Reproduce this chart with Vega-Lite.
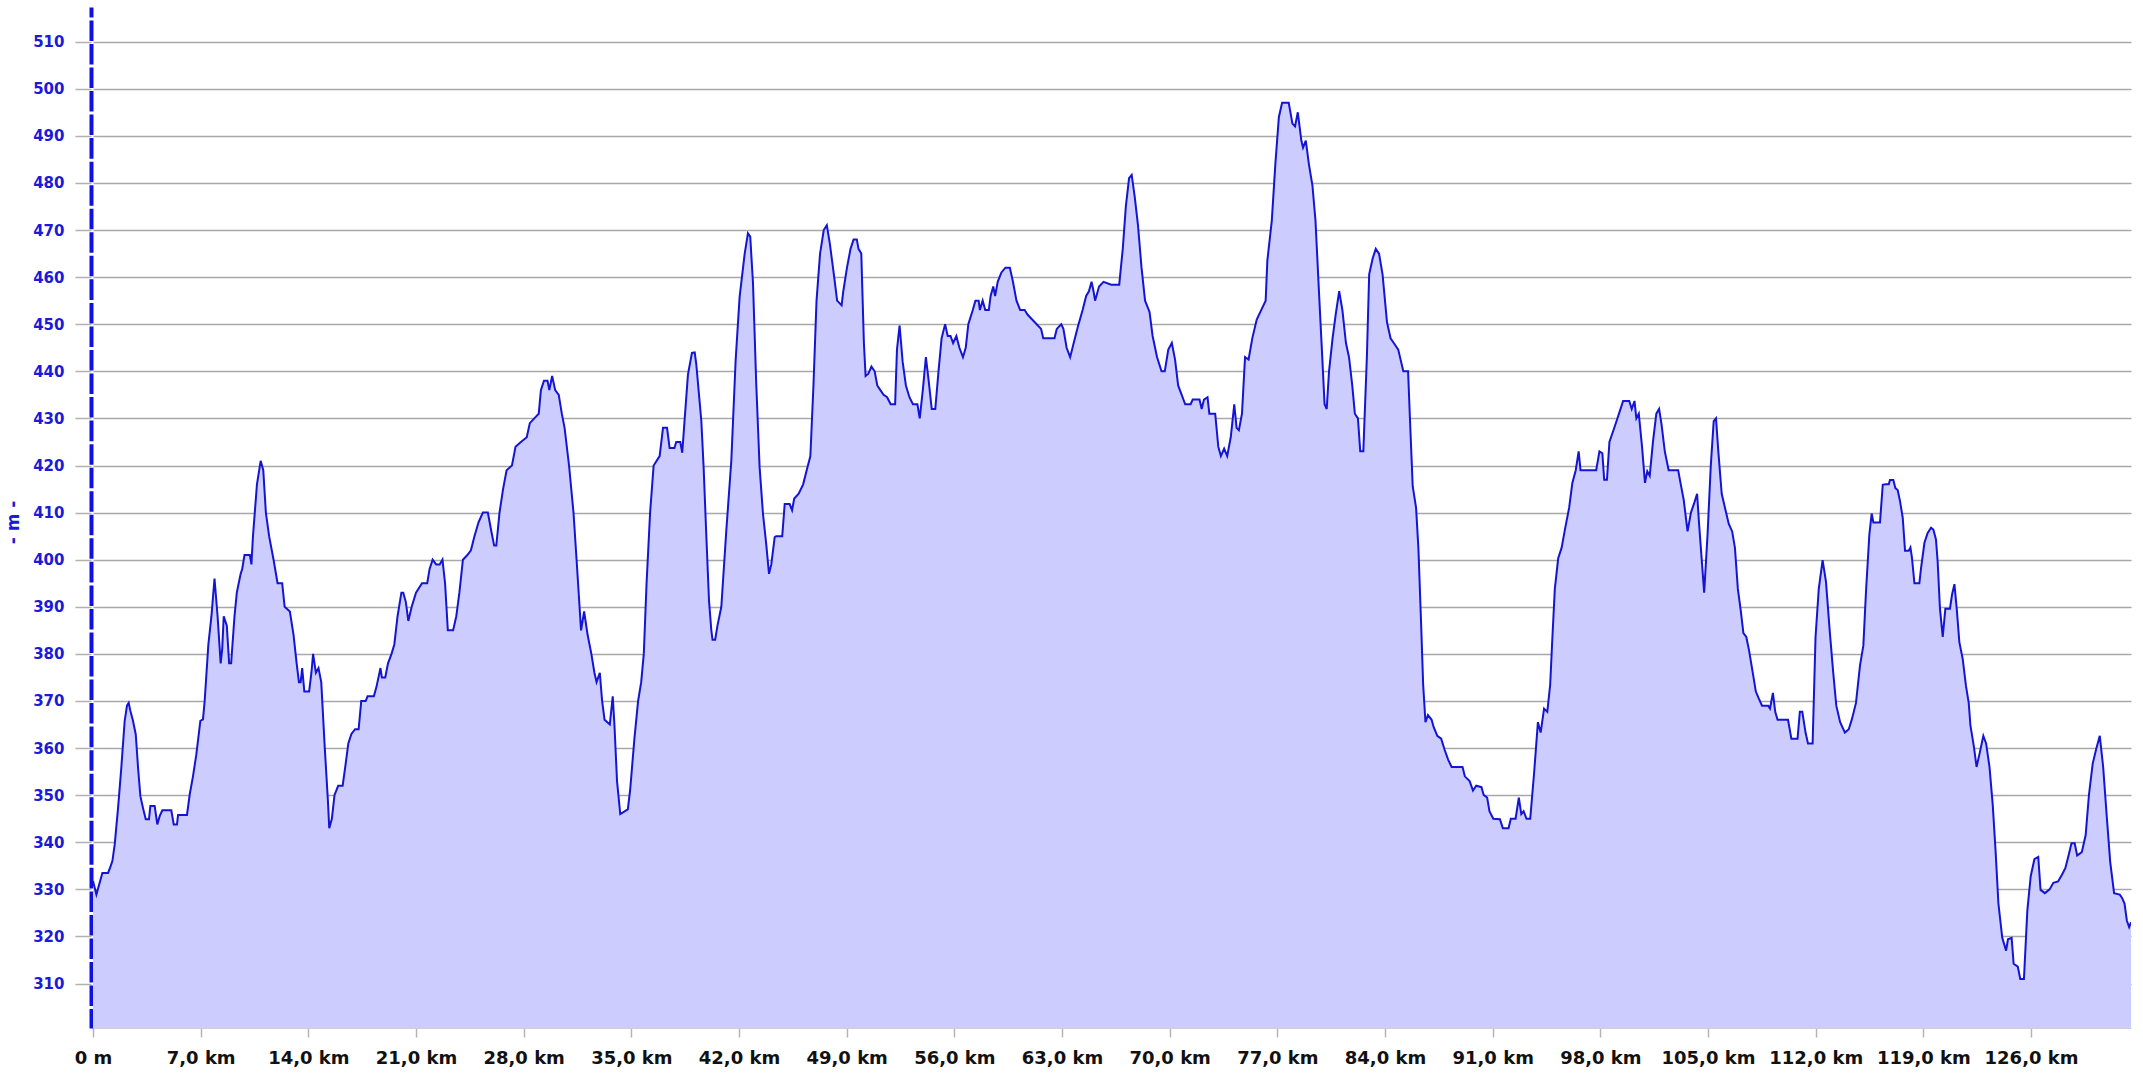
{
  "$schema": "https://vega.github.io/schema/vega-lite/v6.json",
  "autosize": {"type": "none"},
  "padding": {"left": 93, "top": 7, "right": 12, "bottom": 45},
  "width": 2038,
  "height": 1021,
  "background": "#ffffff",
  "config": {"view": {"stroke": null}},
  "data": {"values": [
    {"d":0,"e":331.8},{"d":0.22,"e":328.9},{"d":0.61,"e":333.5},{"d":0.98,"e":333.5},{"d":1.13,"e":334.8},{"d":1.26,"e":336},{"d":1.41,"e":339.5},{"d":1.63,"e":347.3},{"d":1.84,"e":355.8},{"d":2.06,"e":365.8},{"d":2.21,"e":369},{"d":2.32,"e":369.6},{"d":2.43,"e":367.9},{"d":2.6,"e":365.8},{"d":2.78,"e":362.9},{"d":2.93,"e":355.8},{"d":3.08,"e":349.8},{"d":3.25,"e":347.3},{"d":3.43,"e":344.9},{"d":3.64,"e":344.9},{"d":3.73,"e":347.7},{"d":4.01,"e":347.7},{"d":4.18,"e":343.8},{"d":4.34,"e":345.6},{"d":4.51,"e":346.8},{"d":5.09,"e":346.8},{"d":5.25,"e":343.8},{"d":5.46,"e":343.8},{"d":5.53,"e":345.8},{"d":6.11,"e":345.8},{"d":6.29,"e":350.2},{"d":6.5,"e":354},{"d":6.72,"e":358.7},{"d":6.98,"e":365.8},{"d":7.15,"e":366.1},{"d":7.26,"e":370},
    {"d":7.5,"e":382},{"d":7.7,"e":388},{"d":7.9,"e":396},{"d":8.1,"e":388},{"d":8.3,"e":378},{"d":8.4,"e":381},{"d":8.5,"e":388},{"d":8.7,"e":386},{"d":8.85,"e":378},{"d":8.98,"e":378},{"d":9.2,"e":388},{"d":9.35,"e":393},{"d":9.6,"e":397},{"d":9.7,"e":398},{"d":9.85,"e":401},{"d":10.2,"e":401},{"d":10.3,"e":399},{"d":10.4,"e":405},{"d":10.66,"e":416},{"d":10.9,"e":421},{"d":11.07,"e":419},{"d":11.24,"e":410},{"d":11.45,"e":405},{"d":11.74,"e":400},{"d":12.0,"e":395},{"d":12.3,"e":395},{"d":12.46,"e":390},{"d":12.8,"e":389},{"d":13.04,"e":384},{"d":13.24,"e":378},{"d":13.39,"e":374},{"d":13.5,"e":374},{"d":13.6,"e":377},{"d":13.74,"e":372},{"d":14.05,"e":372},{"d":14.2,"e":376},{"d":14.31,"e":380},{"d":14.49,"e":376},{"d":14.66,"e":377},{"d":14.84,"e":374},{"d":15.07,"e":360},{"d":15.27,"e":349},{"d":15.36,"e":343},{"d":15.53,"e":345},{"d":15.7,"e":350},{"d":15.94,"e":352},{"d":16.23,"e":352},{"d":16.4,"e":356},{"d":16.6,"e":361},{"d":16.8,"e":363},{"d":17.04,"e":364},{"d":17.27,"e":364},{"d":17.44,"e":370},{"d":17.73,"e":370},{"d":17.85,"e":371},{"d":18.26,"e":371},{"d":18.43,"e":373},{"d":18.69,"e":377},{"d":18.78,"e":375},{"d":19.0,"e":375},{"d":19.18,"e":378},{"d":19.41,"e":380},{"d":19.59,"e":382},{"d":19.8,"e":388},{"d":20.05,"e":393},{"d":20.17,"e":393},{"d":20.34,"e":391},{"d":20.5,"e":387},{"d":20.72,"e":390},{"d":21.0,"e":393},{"d":21.39,"e":395},{"d":21.73,"e":395},{"d":21.88,"e":398},{"d":22.08,"e":400},{"d":22.31,"e":399},{"d":22.54,"e":399},{"d":22.72,"e":400},{"d":22.89,"e":395},{"d":23.07,"e":385},{"d":23.41,"e":385},{"d":23.62,"e":388},{"d":23.82,"e":393},{"d":24.05,"e":400},{"d":24.34,"e":401},{"d":24.57,"e":402},{"d":24.8,"e":405},{"d":25.07,"e":408},{"d":25.35,"e":410},{"d":25.67,"e":410},{"d":25.9,"e":406},{"d":26.08,"e":403},{"d":26.22,"e":403},{"d":26.43,"e":410},{"d":26.66,"e":415},{"d":26.89,"e":419},{"d":27.24,"e":420},{"d":27.47,"e":424},{"d":27.82,"e":425},{"d":28.2,"e":426},{"d":28.4,"e":429},{"d":28.69,"e":430},{"d":28.98,"e":431},{"d":29.12,"e":436},{"d":29.32,"e":438},{"d":29.55,"e":438},{"d":29.67,"e":436},{"d":29.85,"e":439},{"d":30.05,"e":436},{"d":30.28,"e":435},{"d":30.48,"e":431},{"d":30.66,"e":428},{"d":30.95,"e":420},{"d":31.24,"e":410},{"d":31.44,"e":400},{"d":31.73,"e":385},{"d":31.93,"e":389},{"d":32.16,"e":384},{"d":32.4,"e":380},{"d":32.6,"e":376},{"d":32.74,"e":374},{"d":32.95,"e":376},{"d":33.1,"e":370},{"d":33.26,"e":366},{"d":33.6,"e":365},{"d":33.79,"e":371},{"d":33.9,"e":365},{"d":34.07,"e":353},{"d":34.28,"e":346},{"d":34.77,"e":347},{"d":34.92,"e":351},{"d":35.2,"e":362},{"d":35.44,"e":370},{"d":35.64,"e":374},{"d":35.81,"e":380},{"d":35.99,"e":395},{"d":36.22,"e":410},{"d":36.45,"e":420},{"d":36.84,"e":422},
    {"d":37.06,"e":428},{"d":37.32,"e":428},{"d":37.49,"e":423.7},{"d":37.8,"e":423.7},{"d":37.92,"e":425},{"d":38.18,"e":425},{"d":38.31,"e":422.7},{"d":38.47,"e":430},{"d":38.68,"e":439.3},{"d":38.94,"e":443.9},{"d":39.12,"e":444},{"d":39.22,"e":441.6},{"d":39.4,"e":435},{"d":39.55,"e":429.5},{"d":39.7,"e":419.6},{"d":39.87,"e":405.5},{"d":40.05,"e":391.3},{"d":40.2,"e":385},{"d":40.28,"e":383},{"d":40.45,"e":383},{"d":40.6,"e":386},{"d":40.85,"e":390},{"d":41.17,"e":406},{"d":41.5,"e":421},{"d":41.78,"e":442.3},{"d":42.04,"e":455.8},{"d":42.37,"e":465},{"d":42.58,"e":469.3},{"d":42.73,"e":468.6},{"d":42.91,"e":458.7},{"d":43.12,"e":437.4},{"d":43.34,"e":419.6},{"d":43.56,"e":409.7},{"d":43.77,"e":403.3},{"d":43.95,"e":397},{"d":44.1,"e":399},{"d":44.32,"e":404.8},{"d":44.42,"e":405},{"d":44.81,"e":405},{"d":44.97,"e":411.8},{"d":45.29,"e":411.8},
    {"d":45.45,"e":410.5},{"d":45.59,"e":413},{"d":45.88,"e":414},{"d":46.17,"e":416},{"d":46.4,"e":419},{"d":46.64,"e":422},{"d":46.84,"e":437},{"d":47.04,"e":455},{"d":47.27,"e":465},{"d":47.51,"e":470},{"d":47.71,"e":471},{"d":47.91,"e":467},{"d":48.15,"e":461},{"d":48.38,"e":455},{"d":48.67,"e":454},{"d":48.78,"e":457},{"d":49.02,"e":462},{"d":49.25,"e":466},{"d":49.45,"e":468},{"d":49.66,"e":468},{"d":49.77,"e":466},{"d":49.95,"e":465},{"d":50.12,"e":446},{"d":50.23,"e":439},{"d":50.41,"e":439.5},{"d":50.61,"e":441},{"d":50.82,"e":440},{"d":50.99,"e":437},{"d":51.19,"e":436},{"d":51.4,"e":435},{"d":51.63,"e":434.5},{"d":51.86,"e":433},{"d":52.15,"e":433},{"d":52.27,"e":444.6},{"d":52.44,"e":449.7},{"d":52.64,"e":442},{"d":52.85,"e":437},{"d":53.08,"e":434.5},{"d":53.31,"e":433},{"d":53.6,"e":433},{"d":53.75,"e":430},{"d":53.95,"e":436},{"d":54.15,"e":443},{"d":54.33,"e":438},{"d":54.53,"e":432},{"d":54.76,"e":432},{"d":54.97,"e":440},{"d":55.17,"e":447},{"d":55.4,"e":450},{"d":55.57,"e":447.5},{"d":55.75,"e":447.5},{"d":55.92,"e":446},{"d":56.13,"e":447.5},{"d":56.33,"e":445},{"d":56.56,"e":443},{"d":56.74,"e":445},{"d":56.91,"e":450},{"d":57.2,"e":453},{"d":57.37,"e":455},{"d":57.58,"e":455},{"d":57.66,"e":453},{"d":57.84,"e":455},{"d":58.01,"e":453},{"d":58.24,"e":453},{"d":58.36,"e":456},{"d":58.53,"e":458},{"d":58.65,"e":456},{"d":58.82,"e":459},{"d":59.06,"e":461},{"d":59.32,"e":462},{"d":59.61,"e":462},{"d":59.81,"e":459},{"d":60.04,"e":455},{"d":60.28,"e":453},{"d":60.57,"e":453},{"d":60.77,"e":452},{"d":61.06,"e":451},{"d":61.35,"e":450},{"d":61.64,"e":449},{"d":61.78,"e":447},{"d":62.51,"e":447},{"d":62.66,"e":449},{"d":62.95,"e":450},{"d":63.09,"e":449},{"d":63.3,"e":445},{"d":63.53,"e":443},{"d":63.76,"e":446},{"d":64.05,"e":449.7},{"d":64.34,"e":453},{"d":64.57,"e":456},{"d":64.75,"e":457},{"d":64.92,"e":459},{"d":65.05,"e":457},{"d":65.15,"e":455},{"d":65.41,"e":458},{"d":65.7,"e":459},{"d":66.2,"e":458.4},{"d":66.72,"e":458.4},{"d":66.95,"e":466},{"d":67.15,"e":475},{"d":67.36,"e":481},{"d":67.53,"e":481.7},{"d":67.73,"e":477},{"d":67.94,"e":471},{"d":68.17,"e":462},{"d":68.4,"e":455},{"d":68.69,"e":452.6},{"d":68.89,"e":447.5},{"d":69.18,"e":443},{"d":69.47,"e":440},{"d":69.68,"e":440},{"d":69.91,"e":444.6},{"d":70.14,"e":446},{"d":70.35,"e":442.5},{"d":70.55,"e":437},{"d":70.78,"e":435},{"d":71.01,"e":433},{"d":71.36,"e":433},{"d":71.5,"e":434},{"d":71.94,"e":434},{"d":72.08,"e":432},{"d":72.23,"e":434},{"d":72.46,"e":434.5},{"d":72.58,"e":431},{"d":72.96,"e":431},{"d":73.16,"e":424},{"d":73.33,"e":422},{"d":73.54,"e":423.6},{"d":73.74,"e":422},{"d":73.97,"e":426},{"d":74.2,"e":433},{"d":74.35,"e":428},{"d":74.5,"e":427.5},{"d":74.7,"e":431},{"d":74.9,"e":443},{"d":75.13,"e":442.5},{"d":75.37,"e":447},{"d":75.66,"e":451},{"d":75.95,"e":453},{"d":76.24,"e":455},{"d":76.35,"e":463.5},{"d":76.64,"e":472},{"d":76.87,"e":484},{"d":77.1,"e":494},{"d":77.31,"e":497},{"d":77.74,"e":497},{"d":77.98,"e":492.6},{"d":78.15,"e":492},{"d":78.33,"e":495},{"d":78.56,"e":489},{"d":78.67,"e":487.5},{"d":78.85,"e":489},{"d":79.05,"e":484},{"d":79.28,"e":479.5},{"d":79.48,"e":472},{"d":79.72,"e":456},{"d":79.92,"e":443},{"d":80.07,"e":433},{"d":80.21,"e":432},{"d":80.36,"e":440},{"d":80.59,"e":447},{"d":80.79,"e":452},{"d":81.02,"e":457},{"d":81.23,"e":453},{"d":81.46,"e":446},{"d":81.66,"e":443},{"d":81.87,"e":437},{"d":82.04,"e":431},{"d":82.24,"e":430},{"d":82.39,"e":423},{"d":82.59,"e":423},{"d":82.82,"e":443},{"d":82.97,"e":460.6},{"d":83.2,"e":464},{"d":83.4,"e":466},{"d":83.61,"e":465},{"d":83.84,"e":460.6},{"d":84.13,"e":450.4},{"d":84.36,"e":447},{"d":84.57,"e":446},{"d":84.86,"e":444.6},
    {"d":85.19,"e":440},{"d":85.5,"e":440},{"d":85.62,"e":430},{"d":85.8,"e":415.6},{"d":86.02,"e":411},{"d":86.17,"e":402.5},{"d":86.33,"e":388},{"d":86.48,"e":373.5},{"d":86.63,"e":365.5},{"d":86.79,"e":367},{"d":87.03,"e":366},{"d":87.16,"e":364.5},{"d":87.4,"e":362.6},{"d":87.65,"e":362},{"d":87.87,"e":359.7},{"d":88.11,"e":357.5},{"d":88.33,"e":356},{"d":89.04,"e":356},{"d":89.19,"e":354},{"d":89.5,"e":353},{"d":89.72,"e":351},{"d":89.93,"e":352},{"d":90.27,"e":351.7},{"d":90.42,"e":350},{"d":90.64,"e":349.5},{"d":90.79,"e":346.6},{"d":91.04,"e":345},{"d":91.47,"e":344.9},{"d":91.66,"e":343},{"d":92.03,"e":343},{"d":92.18,"e":345},{"d":92.49,"e":345},{"d":92.7,"e":349.5},{"d":92.86,"e":346},{"d":93.01,"e":346.6},{"d":93.2,"e":345},{"d":93.44,"e":345},{"d":93.69,"e":354.6},{"d":93.94,"e":365.5},{"d":94.12,"e":363.3},{"d":94.34,"e":368.4},{"d":94.55,"e":367.7},{"d":94.74,"e":373.5},{"d":94.86,"e":382},{"d":95.04,"e":393.8},{"d":95.26,"e":400.3},{"d":95.48,"e":402.5},{"d":95.72,"e":406.8},{"d":95.97,"e":411},{"d":96.18,"e":416.3},{"d":96.4,"e":419},{"d":96.59,"e":423},{"d":96.71,"e":419},{"d":97.73,"e":419},{"d":97.94,"e":423},{"d":98.13,"e":422.6},{"d":98.25,"e":417},{"d":98.43,"e":417},{"d":98.59,"e":425},{"d":98.8,"e":427},{"d":99.05,"e":429.4},{"d":99.27,"e":431.6},{"d":99.48,"e":433.7},{"d":99.88,"e":433.7},{"d":100.04,"e":432},{"d":100.22,"e":433.7},{"d":100.34,"e":430},{"d":100.5,"e":431},{"d":100.71,"e":424},{"d":100.9,"e":416.3},{"d":101.05,"e":418.8},{"d":101.21,"e":417.8},{"d":101.42,"e":425},{"d":101.64,"e":431},{"d":101.82,"e":432},{"d":101.98,"e":428.7},{"d":102.19,"e":423},{"d":102.44,"e":419},{"d":103.06,"e":419},{"d":103.21,"e":416.3},{"d":103.42,"e":412.7},{"d":103.67,"e":406},{"d":103.89,"e":410},{"d":104.1,"e":412},{"d":104.29,"e":414},{"d":104.41,"e":408},{"d":104.6,"e":399.6},{"d":104.75,"e":393},{"d":104.97,"e":405.4},{"d":105.18,"e":420},{"d":105.37,"e":429.4},{"d":105.52,"e":430},{"d":105.67,"e":423},{"d":105.89,"e":414},{"d":106.14,"e":410.5},{"d":106.35,"e":407.6},{"d":106.57,"e":406},{"d":106.75,"e":402.5},{"d":106.94,"e":393.8},{"d":107.12,"e":389.4},{"d":107.3,"e":384.4},{"d":107.49,"e":383.6},{"d":107.67,"e":380.7},{"d":107.89,"e":376.4},{"d":108.11,"e":372},{"d":108.29,"e":370.6},{"d":108.51,"e":369},{"d":108.91,"e":369},{"d":109.03,"e":368.4},{"d":109.22,"e":371.7},{"d":109.37,"e":367.7},{"d":109.52,"e":366},{"d":110.2,"e":366},{"d":110.42,"e":362},{"d":110.82,"e":362},{"d":110.97,"e":367.7},{"d":111.13,"e":367.7},{"d":111.34,"e":363.3},{"d":111.5,"e":361},{"d":111.8,"e":361},{"d":111.99,"e":383.6},{"d":112.2,"e":393.8},{"d":112.45,"e":399.9},{"d":112.67,"e":395.3},{"d":112.91,"e":385},{"d":113.13,"e":376.4},{"d":113.34,"e":369},{"d":113.59,"e":365.5},{"d":113.9,"e":363.3},{"d":114.15,"e":364},{"d":114.36,"e":366.2},
    {"d":114.62,"e":369.6},{"d":114.88,"e":377.5},{"d":115.1,"e":381.8},{"d":115.27,"e":393.2},{"d":115.49,"e":405.4},{"d":115.64,"e":409.8},{"d":115.75,"e":407.9},{"d":116.18,"e":407.9},{"d":116.36,"e":415.9},{"d":116.53,"e":416},{"d":116.75,"e":416},{"d":116.83,"e":416.9},{"d":117.05,"e":416.9},{"d":117.18,"e":415.2},{"d":117.33,"e":414.8},{"d":117.48,"e":412.5},{"d":117.66,"e":408.9},{"d":117.81,"e":401.9},{"d":118.05,"e":401.9},{"d":118.16,"e":402.6},{"d":118.26,"e":400.4},{"d":118.42,"e":395},{"d":118.74,"e":395},{"d":118.85,"e":398.2},{"d":119.07,"e":403.6},{"d":119.28,"e":405.7},{"d":119.5,"e":406.8},{"d":119.65,"e":406.4},{"d":119.82,"e":404.3},{"d":119.93,"e":399.6},{"d":120.08,"e":389.6},{"d":120.26,"e":383.6},{"d":120.43,"e":389.6},{"d":120.73,"e":389.6},{"d":120.86,"e":392.5},{"d":121.02,"e":394.8},{"d":121.17,"e":389.6},{"d":121.34,"e":382.5},{"d":121.56,"e":378.9},{"d":121.77,"e":373.2},{"d":121.95,"e":369.6},
    {"d":122.06,"e":364.8},{"d":122.28,"e":360.4},{"d":122.46,"e":356},{"d":122.68,"e":359.2},{"d":122.9,"e":362.6},{"d":123.08,"e":361},{"d":123.3,"e":356},{"d":123.51,"e":348},{"d":123.7,"e":337.9},{"d":123.88,"e":327},{"d":124.13,"e":319.7},{"d":124.38,"e":317},{"d":124.5,"e":319.4},{"d":124.74,"e":319.7},{"d":124.87,"e":314.2},{"d":125.14,"e":313.6},{"d":125.3,"e":311},{"d":125.54,"e":311},{"d":125.76,"e":325.5},{"d":125.98,"e":332.8},{"d":126.22,"e":336.4},{"d":126.47,"e":336.9},{"d":126.62,"e":329.9},{"d":126.9,"e":329.2},{"d":127.21,"e":330},{"d":127.45,"e":331.4},{"d":127.76,"e":331.7},{"d":128.01,"e":333.1},{"d":128.23,"e":334.5},{"d":128.44,"e":337.2},{"d":128.63,"e":339.8},{"d":128.84,"e":339.8},{"d":129.0,"e":337.2},{"d":129.3,"e":337.9},{"d":129.55,"e":341.5},{"d":129.77,"e":350.2},{"d":130.01,"e":356.7},{"d":130.23,"e":359.7},{"d":130.47,"e":362.6},{"d":130.69,"e":356},{"d":130.93,"e":345.2},{"d":131.15,"e":335.8},{"d":131.4,"e":329.2},{"d":131.77,"e":328.9},{"d":131.92,"e":328.2},{"d":132.08,"e":327},{"d":132.23,"e":323.4},{"d":132.38,"e":322},{"d":132.5,"e":323}
  ]},
  "mark": {"type": "area", "color": "#ccccff", "opacity": 1, "clip": true, "line": {"color": "#1414d4", "strokeWidth": 2}},
  "encoding": {
    "x": {
      "field": "d", "type": "quantitative",
      "scale": {"domain": [0, 132.5], "nice": false, "zero": false},
      "axis": {
        "values": [0,7,14,21,28,35,42,49,56,63,70,77,84,91,98,105,112,119,126],
        "labelExpr": "datum.value == 0 ? '0 m' : replace(format(datum.value, '.1f'), '.', ',') + ' km'",
        "title": null, "grid": false,
        "tickColor": "#b4b4b4", "tickSize": 9, "tickWidth": 1.5,
        "domainColor": "#cfcfdc", "domainWidth": 1,
        "labelFont": "DejaVu Sans", "labelFontWeight": "bold", "labelFontSize": 18, "labelColor": "#111111",
        "labelPadding": 12, "labelFlush": false, "labelOverlap": false
      }
    },
    "y": {
      "field": "e", "type": "quantitative",
      "scale": {"domain": [300.57, 517.35], "nice": false, "zero": false},
      "axis": {
        "values": [310,320,330,340,350,360,370,380,390,400,410,420,430,440,450,460,470,480,490,500,510],
        "grid": true, "gridColor": "#a8a8a8", "gridWidth": 1.5,
        "tickColor": "#b0b0b0", "tickSize": 16, "tickWidth": 1.5,
        "labelFont": "DejaVu Sans", "labelFontWeight": "bold", "labelFontSize": 15, "labelColor": "#1a1ad8",
        "labelPadding": 11,
        "domainColor": "#1010e0", "domainWidth": 4, "domainDash": [20.54, 3], "domainDashOffset": 1.14,
        "offset": 2,
        "title": "- m -", "titleFont": "DejaVu Sans", "titleFontWeight": "bold", "titleFontSize": 17, "titleColor": "#1a1ad8",
        "titleAngle": -90, "titleAlign": "center", "titleBaseline": "middle", "titleX": -78, "titleY": 515
      }
    },
    "y2": {"datum": 300.57}
  }
}
